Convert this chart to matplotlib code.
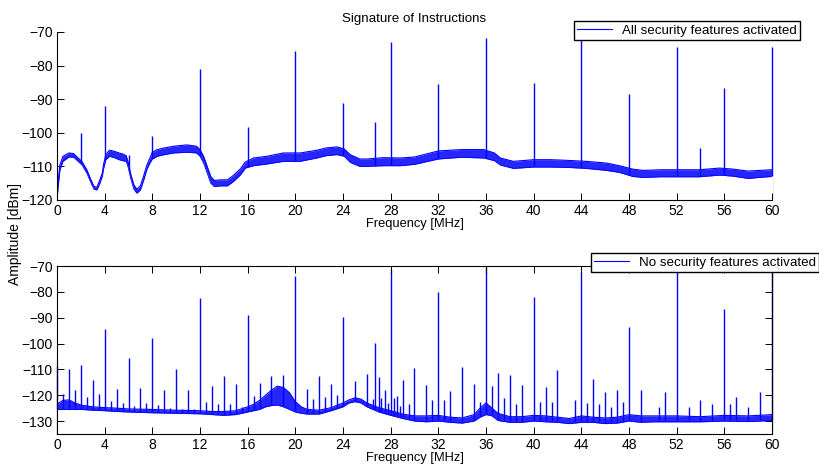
import numpy as np
from matplotlib import pyplot as plt

plt.rcParams['font.family'] = ['Liberation Sans', 'DejaVu Sans']

# ---- top: all security features activated ----
top_freq = [0, 0.1, 0.25, 0.5, 1.0, 1.4, 1.8, 2.1, 2.5, 2.8, 3.1, 3.35, 3.6, 3.8, 3.9,
            4.1, 4.4, 4.8, 5.2, 5.5, 5.8, 5.95, 6.2, 6.45, 6.7, 7.0, 7.3, 7.55, 7.8,
            8.0, 8.4, 9.0, 9.8, 10.9, 11.7, 12.0, 12.3, 12.6, 12.9, 13.2, 13.7, 14.3,
            14.8, 15.4, 15.8, 16.5, 17.6, 19.0, 20.4, 21.8, 22.6, 23.5, 24.1, 24.6,
            25.4, 26.0, 27.4, 28.8, 30.0, 32.0, 33.9, 35.8, 36.7, 37.2, 38.3, 40.0,
            41.4, 42.8, 44.4, 46.1, 47.2, 48.3, 49.2, 50.6, 52.5, 53.9, 55.6, 56.7,
            58.0, 58.9, 60.0]
top_low = [-120, -116, -111, -108.5, -107.2, -107.3, -108.6, -109.6, -112, -114.5,
           -116.8, -117, -115, -113, -110.8, -108, -107, -107.4, -108, -108.3, -108.5,
           -110, -113.8, -116.8, -118, -117, -113.8, -110.8, -109, -107.8, -107,
           -106.5, -106, -105.8, -106, -107, -109, -112, -115, -116, -115.8, -115.8,
           -114.5, -112.5, -110.5, -109.8, -109.3, -108.5, -108.5, -107.5, -106.8,
           -106.5, -107, -108.8, -110, -110, -109.8, -109.8, -109.4, -107.8, -107.3,
           -107.5, -108.3, -109.6, -110.6, -110.2, -110.2, -110.3, -110.6, -111.2,
           -111.8, -113, -113.3, -113.1, -113.1, -113.1, -112.6, -112.9, -113.6,
           -113.3, -113]
top_high = [-120, -114, -109.5, -107, -106, -106.2, -107.6, -108.6, -111, -113.6,
            -116, -116.2, -114, -112, -109.5, -106.5, -105.2, -105.5, -106, -106.3,
            -106.8, -108.5, -112.5, -115.5, -116.8, -115.8, -112.5, -109.5, -107.5,
            -105.8, -105, -104.5, -104, -103.6, -104, -105, -107, -110, -113, -114.2,
            -114, -114, -112.7, -110.7, -108.7, -107.5, -107, -106, -106, -105.2,
            -104.5, -104.2, -104.8, -106.5, -107.8, -107.8, -107.4, -107.5, -107.2,
            -105.4, -105, -105, -106, -107.5, -108.5, -108, -108, -108.2, -108.5,
            -109, -109.8, -110.8, -111.2, -111, -111, -111, -110.5, -110.8, -111.4,
            -111.2, -111]
top_spike_freq = [2, 4, 6, 8, 12, 16, 20, 24, 26.7, 28, 32, 36, 40, 44, 48, 52, 54, 56, 60]
top_spike_peak = [-100, -92, -106.5, -101, -81.1, -98.2, -75.8, -91.2, -96.9, -73.1,
                  -85.4, -71.8, -85.3, -71, -88.4, -74.5, -104.4, -86.6, -74.6]

# ---- bottom: no security features activated ----
bot_freq = [0, 0.5, 1, 1.5, 2, 3, 4, 5, 6, 8, 10, 12, 13, 14, 15, 16, 16.5, 17, 17.5,
            18, 18.5, 19, 19.5, 20, 20.5, 21, 22, 23, 24, 24.5, 25, 25.5, 26, 27, 28,
            29, 30, 31, 32, 33, 34, 35, 35.5, 36, 36.5, 37, 38, 39, 40, 41, 42, 43, 44,
            45, 46, 47, 48, 49, 50, 52, 54, 56, 58, 60]
bot_low = [-125.5, -125.5, -125.5, -125.5, -125.5, -125.8, -126, -126.3, -126.5, -126.8,
           -127, -127.2, -127.5, -127.8, -127.5, -126.5, -126, -125.5, -124.5, -124,
           -123.8, -124.5, -125.5, -126.5, -127, -127.3, -127.3, -126, -124.5, -123,
           -122.5, -123, -124.5, -126.5, -127.8, -129, -130, -130.3, -130, -130.5,
           -130.8, -130, -128.5, -127.5, -128, -129.8, -130.5, -130.5, -130, -130.3,
           -130.5, -131, -130.5, -130.5, -131, -130.8, -130, -130.5, -130.3, -130.3,
           -130.3, -130, -130.2, -129.8]
bot_high = [-123.5, -122, -121.8, -123, -123.8, -124.5, -124.8, -125, -125.3, -125.5,
            -125.8, -126, -126.3, -126.3, -126, -124.5, -123.5, -122, -120, -118,
            -116.5, -117, -119, -122.5, -124.5, -125.5, -125.8, -124.8, -123, -121.8,
            -121, -121.5, -123, -124.8, -126, -127.3, -128, -128, -127.8, -128.5,
            -128.8, -127.5, -125, -123, -125, -127, -128.3, -128.3, -127.8, -128,
            -128.5, -129, -128, -128.5, -128.8, -128.5, -127.5, -128, -128, -128,
            -128.3, -127.8, -128, -127.5]
bot_spike_freq = [0, 0.5, 1, 1.5, 2, 2.5, 3, 3.5, 4, 4.5, 5, 5.5, 6, 6.5, 7, 7.5, 8, 8.5,
                  9, 9.5, 10, 10.5, 11, 11.5, 12, 12.5, 13, 13.5, 14, 14.5, 15, 15.5, 16,
                  16.5, 17, 18, 19, 20, 21, 21.5, 22, 22.5, 23, 23.5, 24, 25, 26, 26.5,
                  26.7, 27, 27.2, 27.5, 27.75, 28, 28.25, 28.5, 28.75, 29, 29.5, 30, 31,
                  31.5, 32, 32.5, 33, 34, 35, 35.5, 36, 36.5, 37, 37.5, 38, 38.5, 39, 40,
                  40.5, 41, 41.5, 42, 43.5, 44, 44.5, 45, 45.5, 46, 46.5, 47, 47.5, 48,
                  49, 50.5, 51, 52, 53, 54, 55, 56, 56.5, 57, 58, 59, 60]
bot_spike_peak = [-108.6, -119.5, -109.8, -118, -108.3, -120.6, -114, -119.6, -94.5,
                  -122.2, -117.5, -123.1, -105.6, -124.1, -117.3, -123.1, -97.8, -123.9,
                  -118, -125, -109.9, -125.2, -118, -125.5, -82.4, -122.6, -116.4,
                  -123.5, -112.5, -123.4, -115.6, -124.5, -88.9, -120.2, -115.3, -112.7,
                  -112.1, -74, -117.7, -121.6, -112.5, -120.8, -115.6, -120, -89.6,
                  -114.6, -111.9, -121.3, -99.9, -112.9, -121, -117.9, -123, -71.3,
                  -121, -120.4, -124, -114.3, -123.2, -109.5, -116.1, -122, -80, -121.9,
                  -118.3, -109, -115.6, -122.7, -70.5, -116.4, -111.5, -121, -112.1,
                  -123.5, -116.1, -82, -122.5, -117, -122.8, -110.2, -122, -72.3, -123,
                  -113.8, -123.5, -118.6, -124.5, -118, -122.5, -93.6, -118, -124.5,
                  -118.8, -70, -124.4, -121.8, -123.4, -86.6, -123.5, -120.6, -124.5,
                  -118.8, -70]

xticks = np.arange(0, 61, 4)
blue = '#0000ff'

fig = plt.figure(figsize=(8.2, 4.68), dpi=100)
ax1 = fig.add_axes([57/820, 1-200/468, 715/820, 168/468])
ax2 = fig.add_axes([57/820, 1-434/468, 715/820, 168/468])


def draw(ax, freq, low, high, sp_f, sp_p, ymin, ymax, label):
    # spikes drawn unclipped so the ones sitting on 0 and 60 MHz stay whole
    ax.vlines(sp_f, ymin, sp_p, color=blue, lw=1.0, zorder=1, clip_on=False)
    # hide the part of the spikes that falls under the noise floor
    ax.fill_between(freq, ymin, low, facecolor='white', edgecolor='white', lw=1.6,
                    zorder=1.5, clip_on=False)
    ax.fill_between(freq, low, high, color=blue, lw=0, alpha=0.85, zorder=2)
    ax.plot(freq, high, color=blue, lw=0.8, label=label, zorder=2)
    ax.plot(freq, low, color=blue, lw=0.6, zorder=2)
    ax.set_xlim(0, 60)
    ax.set_ylim(ymin, ymax)
    ax.set_xticks(xticks)
    ax.set_xlabel('Frequency [MHz]', fontsize=9.3, labelpad=0)
    ax.tick_params(direction='in', length=4.8, width=0.7, labelsize=10, pad=3)
    for s in ax.spines.values():
        s.set_linewidth(0.8)
        s.set_zorder(3)


draw(ax1, top_freq, top_low, top_high, top_spike_freq, top_spike_peak, -120, -70,
     'All security features activated')
ax1.set_yticks(np.arange(-120, -69, 10))
ax1.spines['top'].set_visible(False)
ax1.spines['right'].set_visible(False)
ax1.set_title('Signature of Instructions', fontsize=9.6, pad=7)

draw(ax2, bot_freq, bot_low, bot_high, bot_spike_freq, bot_spike_peak, -135, -70,
     'No security features activated')
ax2.set_yticks(np.arange(-130, -69, 10))
ax2.tick_params(top=True, right=True)

for ax, (xr, yt) in [(ax1, (800, 21)), (ax2, (819, 253))]:
    leg = ax.legend(loc='upper right', bbox_to_anchor=(xr/820, 1-yt/468),
                    bbox_transform=fig.transFigure, borderaxespad=0, fontsize=9.6,
                    fancybox=False, framealpha=1, handlelength=2.6, handletextpad=0.75,
                    borderpad=0.25)
    leg.get_frame().set_edgecolor('black')
    leg.get_frame().set_linewidth(1.0)
    leg.set_zorder(5)

fig.text(15/820, 0.5, 'Amplitude [dBm]', rotation=90, ha='center', va='center', fontsize=10)

fig.savefig('out.png', dpi=100)
